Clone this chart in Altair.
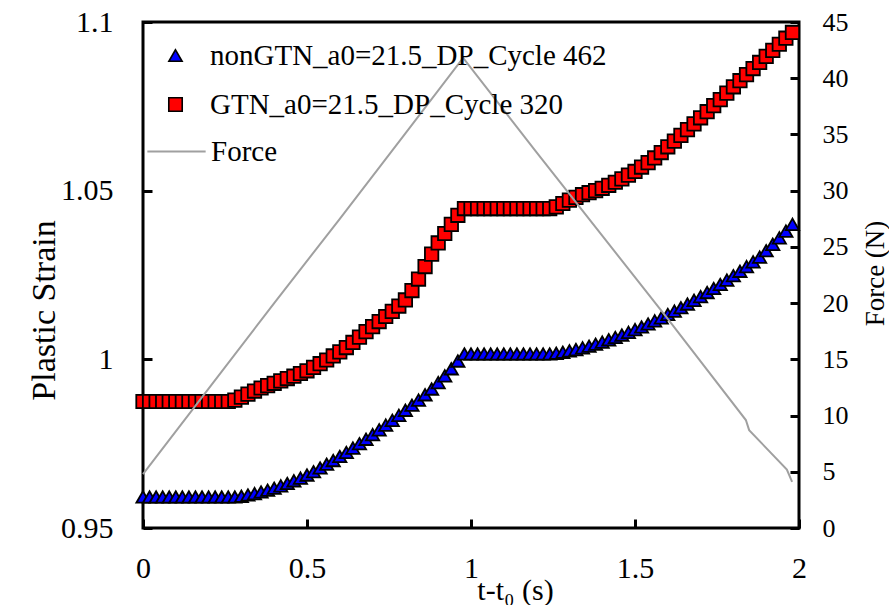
import altair as alt
import pandas as pd

# time axis (s) - sampling of the markers
t = [0.00, 0.02, 0.04, 0.06, 0.08, 0.10, 0.12, 0.14, 0.16, 0.18,
     0.20, 0.22, 0.24, 0.26, 0.28, 0.30, 0.32, 0.34, 0.36, 0.38,
     0.40, 0.42, 0.44, 0.46, 0.48, 0.50, 0.52, 0.54, 0.56, 0.58,
     0.60, 0.62, 0.64, 0.66, 0.68, 0.70, 0.72, 0.74, 0.76, 0.78,
     0.80, 0.82, 0.84, 0.86, 0.88, 0.90, 0.92, 0.94, 0.96, 0.98,
     1.00, 1.02, 1.04, 1.06, 1.08, 1.10, 1.12, 1.14, 1.16, 1.18,
     1.20, 1.22, 1.24, 1.26, 1.28, 1.30, 1.32, 1.34, 1.36, 1.38,
     1.40, 1.42, 1.44, 1.46, 1.48, 1.50, 1.52, 1.54, 1.56, 1.58,
     1.60, 1.62, 1.64, 1.66, 1.68, 1.70, 1.72, 1.74, 1.76, 1.78,
     1.80, 1.82, 1.84, 1.86, 1.88, 1.90, 1.92, 1.94, 1.96, 1.98]

nongtn_strain = [
    0.9592, 0.9592, 0.9592, 0.9592, 0.9592, 0.9592, 0.9592, 0.9592, 0.9592, 0.9592,
    0.9592, 0.9592, 0.9592, 0.9592, 0.9592, 0.9594, 0.9598, 0.9602, 0.9607, 0.9612,
    0.9618, 0.9625, 0.9632, 0.9640, 0.9648, 0.9657, 0.9667, 0.9678, 0.9689, 0.9700,
    0.9712, 0.9724, 0.9737, 0.9750, 0.9763, 0.9777, 0.9791, 0.9805, 0.9819, 0.9834,
    0.9849, 0.9864, 0.9879, 0.9895, 0.9912, 0.9931, 0.9951, 0.9972, 0.9995, 1.0016,
    1.0016, 1.0016, 1.0016, 1.0016, 1.0016, 1.0016, 1.0016, 1.0016, 1.0016, 1.0016,
    1.0016, 1.0016, 1.0016, 1.0018, 1.0021, 1.0025, 1.0029, 1.0034, 1.0039, 1.0045,
    1.0051, 1.0058, 1.0065, 1.0072, 1.0080, 1.0088, 1.0096, 1.0105, 1.0114, 1.0123,
    1.0133, 1.0143, 1.0153, 1.0164, 1.0175, 1.0186, 1.0198, 1.0210, 1.0222, 1.0235,
    1.0248, 1.0261, 1.0275, 1.0289, 1.0303, 1.0322, 1.0341, 1.0360, 1.0380, 1.0400]

gtn_strain = [
    0.9875, 0.9875, 0.9875, 0.9875, 0.9875, 0.9875, 0.9875, 0.9875, 0.9875, 0.9875,
    0.9875, 0.9875, 0.9875, 0.9875, 0.9879, 0.9888, 0.9897, 0.9906, 0.9915, 0.9922,
    0.9929, 0.9936, 0.9943, 0.9950, 0.9958, 0.9966, 0.9976, 0.9987, 0.9998, 1.0010,
    1.0022, 1.0035, 1.0050, 1.0066, 1.0082, 1.0097, 1.0112, 1.0127, 1.0142, 1.0158,
    1.0176, 1.0204, 1.0238, 1.0275, 1.0312, 1.0345, 1.0373, 1.0400, 1.0427, 1.0447,
    1.0447, 1.0447, 1.0447, 1.0447, 1.0447, 1.0447, 1.0447, 1.0447, 1.0447, 1.0447,
    1.0447, 1.0447, 1.0447, 1.0452, 1.0462, 1.0472, 1.0480, 1.0488, 1.0494, 1.0500,
    1.0507, 1.0516, 1.0525, 1.0535, 1.0546, 1.0557, 1.0570, 1.0583, 1.0597, 1.0613,
    1.0630, 1.0647, 1.0664, 1.0681, 1.0698, 1.0716, 1.0734, 1.0752, 1.0770, 1.0789,
    1.0808, 1.0826, 1.0844, 1.0862, 1.0880, 1.0898, 1.0916, 1.0934, 1.0952, 1.0969]

force_t = [0.0, 0.2, 0.4, 0.6, 0.8, 0.976, 1.2, 1.4, 1.6, 1.838, 1.848, 1.963, 1.979]
force_n = [4.8, 12.4, 20.0, 27.5, 35.1, 41.8, 33.4, 26.0, 18.6, 9.6, 8.7, 5.2, 4.1]

series_names = ["nonGTN_a0=21.5_DP_Cycle 462", "GTN_a0=21.5_DP_Cycle 320"]
force_name = "Force"
x_ticks = [0, 0.5, 1, 1.5, 2]
strain_ticks = [0.95, 1.0, 1.05, 1.1]
force_ticks = [0, 5, 10, 15, 20, 25, 30, 35, 40, 45]

pts = pd.DataFrame({
    "t": t + t,
    "strain": nongtn_strain + gtn_strain,
    "series": [series_names[0]] * len(t) + [series_names[1]] * len(t),
})
frc = pd.DataFrame({"t": force_t, "force": force_n, "curve": [force_name] * len(force_t)})

FONT = "Liberation Serif"

fill_scale = alt.Scale(domain=series_names, range=["#0000ff", "#ff0000"])
stroke_scale = alt.Scale(domain=series_names, range=["#000000", "#000000"])
shape_scale = alt.Scale(domain=series_names, range=["triangle-up", "square"])
size_scale = alt.Scale(type="ordinal", domain=series_names, range=[175, 180])

leg = alt.Legend(title=None, orient="none", legendX=18, legendY=19, padding=0,
                 labelFont=FONT, labelFontSize=29, labelColor="black",
                 labelOffset=20, rowPadding=19, symbolStrokeWidth=1.6,
                 labelLimit=600)

force_leg = alt.Legend(title=None, orient="none", legendX=3, legendY=99, padding=0,
                       labelFont=FONT, labelFontSize=29, labelColor="black",
                       labelOffset=4, symbolSize=3400, symbolStrokeWidth=2,
                       symbolType="stroke", labelLimit=600)

x_enc = alt.X("t:Q", scale=alt.Scale(domain=[0, 2], nice=False),
              axis=alt.Axis(values=x_ticks, format="~g", offset=-9, domain=False,
                            tickSize=9, tickWidth=3, tickColor="black", grid=False,
                            labelFont=FONT, labelFontSize=30, labelColor="black",
                            labelPadding=25, labelFlush=False,
                            title="t-t₀ (s)", titleFont=FONT, titleFontSize=30,
                            titleFontWeight="normal", titleColor="black",
                            titleX=372, titleY=71, titleBaseline="middle"))

points = alt.Chart(pts).mark_point(filled=True, opacity=1, strokeWidth=1.8).encode(
    x=x_enc,
    y=alt.Y("strain:Q", scale=alt.Scale(domain=[0.95, 1.1], nice=False, zero=False),
            axis=alt.Axis(orient="left", values=strain_ticks, format="~g", offset=-9,
                          domain=False, tickSize=9, tickWidth=3, tickColor="black",
                          grid=False, labelFont=FONT, labelFontSize=30,
                          labelColor="black", labelPadding=30, labelFlush=False,
                          title="Plastic Strain", titleFont=FONT, titleFontSize=34,
                          titleFontWeight="normal", titleColor="black",
                          titleAngle=270, titleX=-108, titleY=288,
                          titleBaseline="middle")),
    fill=alt.Fill("series:N", scale=fill_scale, legend=leg),
    stroke=alt.Stroke("series:N", scale=stroke_scale, legend=leg),
    shape=alt.Shape("series:N", scale=shape_scale, legend=leg),
    size=alt.Size("series:N", scale=size_scale, legend=leg),
    order=alt.Order("t:Q"),
)

line = alt.Chart(frc).mark_line(strokeWidth=2).encode(
    x=alt.X("t:Q"),
    y=alt.Y("force:Q", scale=alt.Scale(domain=[0, 45], nice=False),
            axis=alt.Axis(orient="right", values=force_ticks, offset=-9,
                          domain=False, tickSize=9, tickWidth=3, tickColor="black",
                          grid=False, labelFont=FONT, labelFontSize=26,
                          labelColor="black", labelPadding=23, labelFlush=False,
                          title="Force (N)", titleFont=FONT, titleFontSize=27,
                          titleFontWeight="normal", titleColor="black",
                          titleAngle=270, titleX=85, titleY=251,
                          titleBaseline="middle")),
    color=alt.Color("curve:N", scale=alt.Scale(domain=[force_name], range=["#a0a0a0"]),
                    legend=force_leg),
)

chart = alt.layer(points, line).resolve_scale(y="independent").properties(
    width=656, height=506,
    autosize=alt.AutoSizeParams(type="none"),
    padding={"left": 143, "top": 22, "right": 90, "bottom": 77},
).configure(background="white", font=FONT).configure_view(
    stroke="black", strokeWidth=3
).configure_axis(labelFont=FONT, titleFont=FONT).configure_legend(labelFont=FONT)

chart.save("out.html", embed_options={"renderer": "svg", "actions": False})
